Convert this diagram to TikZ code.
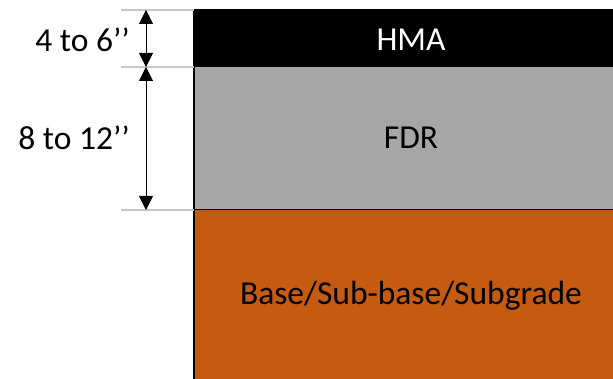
\documentclass[tikz,border=0pt]{standalone}
\usepackage{fontspec}
\setmainfont{Carlito}
\usetikzlibrary{arrows.meta}
\definecolor{hmaC}{HTML}{000000}
\definecolor{fdrC}{HTML}{A6A6A6}
\definecolor{baseC}{HTML}{C55A11}
\definecolor{guideC}{HTML}{C8C8C8}
\tikzset{
  layer/.style={draw=black, line width=1pt, inner sep=0pt, outer sep=0pt, anchor=north west, minimum width=419pt},
  layertext/.style={font=\fontsize{33.5}{33.5}\selectfont},
  guide/.style={draw=guideC, line width=1.3pt},
  dim/.style={draw=black, line width=1pt, {Triangle[width=14pt,length=14pt]}-{Triangle[width=14pt,length=14pt]}},
  dimlabel/.style={font=\fontsize{33.5}{33.5}\selectfont, anchor=east, inner sep=0pt}
}
\begin{document}
\begin{tikzpicture}[x=1pt,y=-1pt]
\useasboundingbox (0,0) rectangle (613,379);
\node[layer, fill=hmaC, minimum height=57pt] (hma) at (194,10) {};
\node[layer, fill=fdrC, minimum height=143pt] (fdr) at (194,67) {};
\node[layer, fill=baseC, minimum height=175pt] (base) at (194,210) {};
\draw[line width=2pt] (hma.north west) -- (base.south west);
\node[layertext, text=white] (thma) at (411,40) {HMA};
\node[layertext] (tfdr) at (411,138) {FDR};
\node[layertext] (tbase) at (411,296) {Base/Sub-base/Subgrade};
\coordinate (g1) at (121,10);
\coordinate (g2) at (121,67);
\coordinate (g3) at (121,210);
\draw[guide] (g1) -- (hma.north west);
\draw[guide] (g2) -- (fdr.north west);
\draw[guide] (g3) -- (base.north west);
\coordinate (a1) at (146,10);
\coordinate (a2) at (146,67);
\coordinate (a3) at (146,210);
\draw[dim] (a1) -- (a2);
\draw[dim] (a2) -- (a3);
\node[dimlabel] (l1) at (130,40) {4 to 6’’};
\node[dimlabel] (l2) at (130,138) {8 to 12’’};
\end{tikzpicture}
\end{document}
